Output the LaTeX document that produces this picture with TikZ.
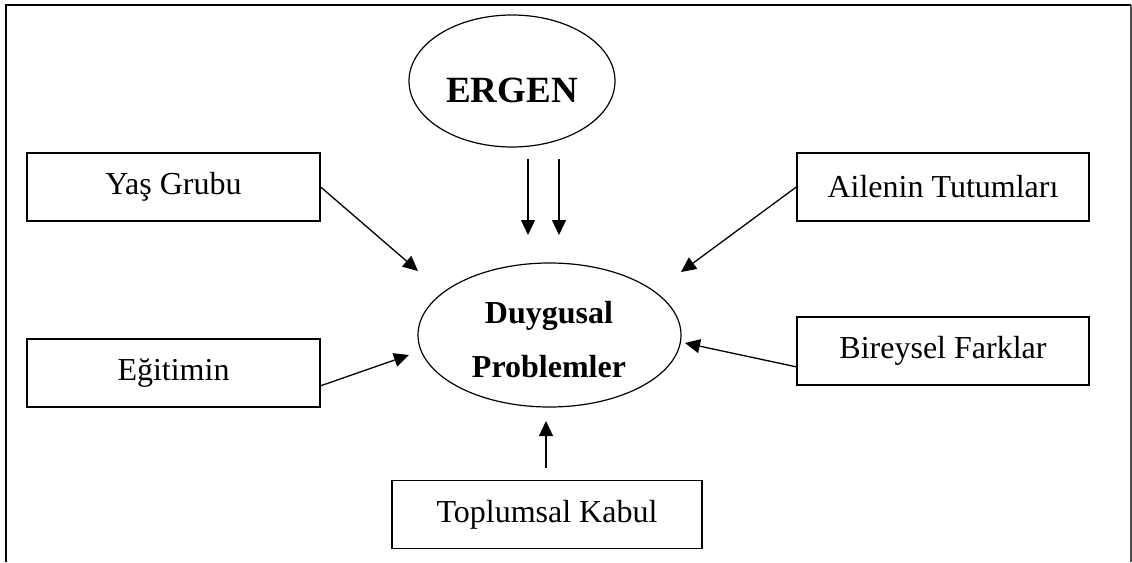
\documentclass[tikz,border=0pt]{standalone}
\usepackage{fontspec}
\setmainfont{Liberation Serif}
\usetikzlibrary{shapes.geometric,arrows.meta}
\begin{document}
\begin{tikzpicture}[x=1pt,y=-1pt,
  factor/.style={draw,line width=1.4pt,rectangle,minimum height=68pt,inner sep=0pt,font=\fontsize{32}{38}\selectfont},
  oval/.style={draw,line width=1.2pt,ellipse,inner sep=0pt},
  arr/.style={line width=1.3pt,-{Triangle[length=15pt,width=14pt]}},
  lbl/.style={inner sep=0pt,font=\bfseries\fontsize{32}{54}\selectfont,align=center}
]
\useasboundingbox (0,0) rectangle (1132,562);
% frame
\draw[line width=2.2pt] (6,562) -- (6,5) -- (1131,5);
\draw[line width=1.5pt,gray!60!black] (1131,5) -- (1131,562);

% ellipses
\node[oval,minimum width=206pt,minimum height=132pt] (ergen) at (512,81) {};
\node[lbl,font=\bfseries\fontsize{37}{40}\selectfont] (ergentext) at (512,90) {ERGEN};
\node[oval,minimum width=263pt,minimum height=144pt] (duy) at (549.5,335) {};
\node[lbl] (duytext) at (549,340) {Duygusal\\Problemler};

% boxes
\node[factor,minimum width=293pt] (yas) at (173.5,187) {Yaş Grubu};
\node[factor,minimum width=292pt] (aile) at (943,187) {Ailenin Tutumları};
\node[factor,minimum width=293pt] (egit) at (173.5,373) {Eğitimin};
\node[factor,minimum width=292pt] (birey) at (943,351) {Bireysel Farklar};
\node[factor,minimum width=310pt] (toplum) at (547,514.5) {Toplumsal Kabul};

% arrow end points
\coordinate (d1s) at (528,159);
\coordinate (d1e) at (528,235);
\coordinate (d2s) at (559,159);
\coordinate (d2e) at (559,235);
\coordinate (yasE) at (418,271);
\coordinate (aileE) at (681,272);
\coordinate (egitS) at (320,386);
\coordinate (egitE) at (409,355);
\coordinate (bireyS) at (797,367);
\coordinate (bireyE) at (685,343);
\coordinate (topS) at (546,468);
\coordinate (topE) at (546,421);

\draw[arr] (d1s) -- (d1e);
\draw[arr] (d2s) -- (d2e);
\draw[arr] (yas.east) -- (yasE);
\draw[arr] (aile.west) -- (aileE);
\draw[arr] (egitS) -- (egitE);
\draw[arr] (bireyS) -- (bireyE);
\draw[arr] (topS) -- (topE);
\end{tikzpicture}
\end{document}
